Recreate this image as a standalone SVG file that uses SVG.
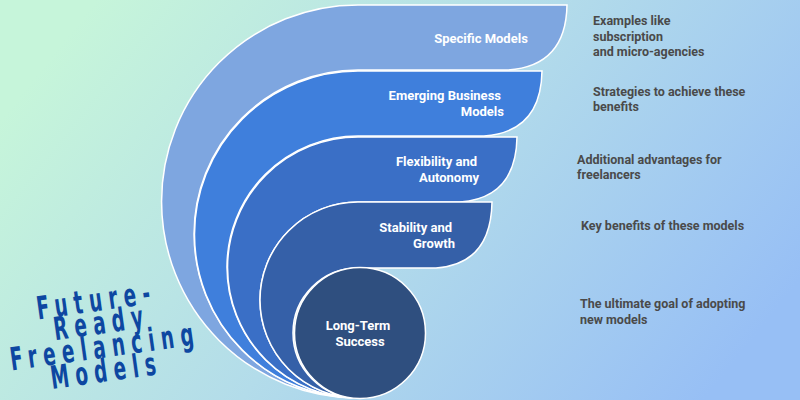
<svg xmlns="http://www.w3.org/2000/svg" width="800" height="400" viewBox="0 0 800 400">
<defs>
<linearGradient id="bg" x1="0" y1="0.3" x2="1" y2="0.7">
<stop offset="0" stop-color="#c6f5da"/>
<stop offset="0.5" stop-color="#b3dcea"/>
<stop offset="1" stop-color="#97bff5"/>
</linearGradient>
<style>
.s{stroke:#fff;stroke-width:1.5}
.l{font-family:Roboto,"Liberation Sans",sans-serif;font-weight:bold;font-size:13px;fill:#fff}
.a{font-family:Roboto,"Liberation Sans",sans-serif;font-weight:bold;font-size:12.5px;fill:#4a4a4a}
.t{font-family:"DejaVu Sans Condensed","DejaVu Sans",sans-serif;font-weight:bold;font-size:32px;fill:#0d47a1;letter-spacing:10px;text-anchor:middle}
</style>
</defs>
<rect width="800" height="400" fill="url(#bg)"/>
<g id="n1"><path class="s" fill="#7ea6e0" d="M358,398 A196.5,196.5 0 0 1 358,5 L567,5 Q566,66 508,70 L358,70 A164,164 0 0 0 358,398 Z"/>
<text class="l" x="481" y="43" text-anchor="middle">Specific Models</text></g>
<g id="n2"><path class="s" fill="#3f7fdc" d="M358,398 A163.5,163.5 0 0 1 358,71 L542,71 Q541,132 484,136 L358,136 A131,131 0 0 0 358,398 Z"/>
<text class="l" text-anchor="end"><tspan x="501" y="100">Emerging Business</tspan><tspan x="504" y="116">Models</tspan></text></g>
<g id="n3"><path class="s" fill="#3a6fc6" d="M358,398 A130.5,130.5 0 0 1 358,137 L517,137 Q516,198 460,202 L358,202 A98,98 0 0 0 358,398 Z"/>
<text class="l" text-anchor="end"><tspan x="477" y="166">Flexibility and</tspan><tspan x="479" y="182">Autonomy</tspan></text></g>
<g id="n4"><path class="s" fill="#3560a8" d="M358,398 A98,98 0 0 1 358,202 L492,202 Q491,264 436,268 L358,268 A65,65 0 0 0 358,398 Z"/>
<text class="l" text-anchor="end"><tspan x="452" y="232">Stability and</tspan><tspan x="455" y="248">Growth</tspan></text></g>
<g id="n5"><circle class="s" cx="360" cy="333" r="65.5" fill="#2f4f7f"/>
<text class="l" text-anchor="middle"><tspan x="358" y="330">Long-Term</tspan><tspan x="360" y="346">Success</tspan></text></g>
<g id="notes">
<text class="a"><tspan x="593" y="25">Examples like</tspan><tspan x="593" y="41">subscription</tspan><tspan x="593" y="56">and micro-agencies</tspan></text>
<text class="a"><tspan x="593" y="96">Strategies to achieve these</tspan><tspan x="593" y="111">benefits</tspan></text>
<text class="a"><tspan x="577" y="164">Additional advantages for</tspan><tspan x="577" y="179">freelancers</tspan></text>
<text class="a"><tspan x="581" y="230">Key benefits of these models</tspan></text>
<text class="a"><tspan x="580" y="308">The ultimate goal of adopting</tspan><tspan x="580" y="324">new models</tspan></text>
</g>
<g id="title" transform="rotate(-8 100 340) translate(102 0) scale(0.64 1)">
<text class="t" x="0" y="311">Future-</text>
<text class="t" x="3" y="334">Ready</text>
<text class="t" x="3" y="358">Freelancing</text>
<text class="t" x="0" y="382">Models</text>
</g>
<g id="connectors"/>
</svg>
